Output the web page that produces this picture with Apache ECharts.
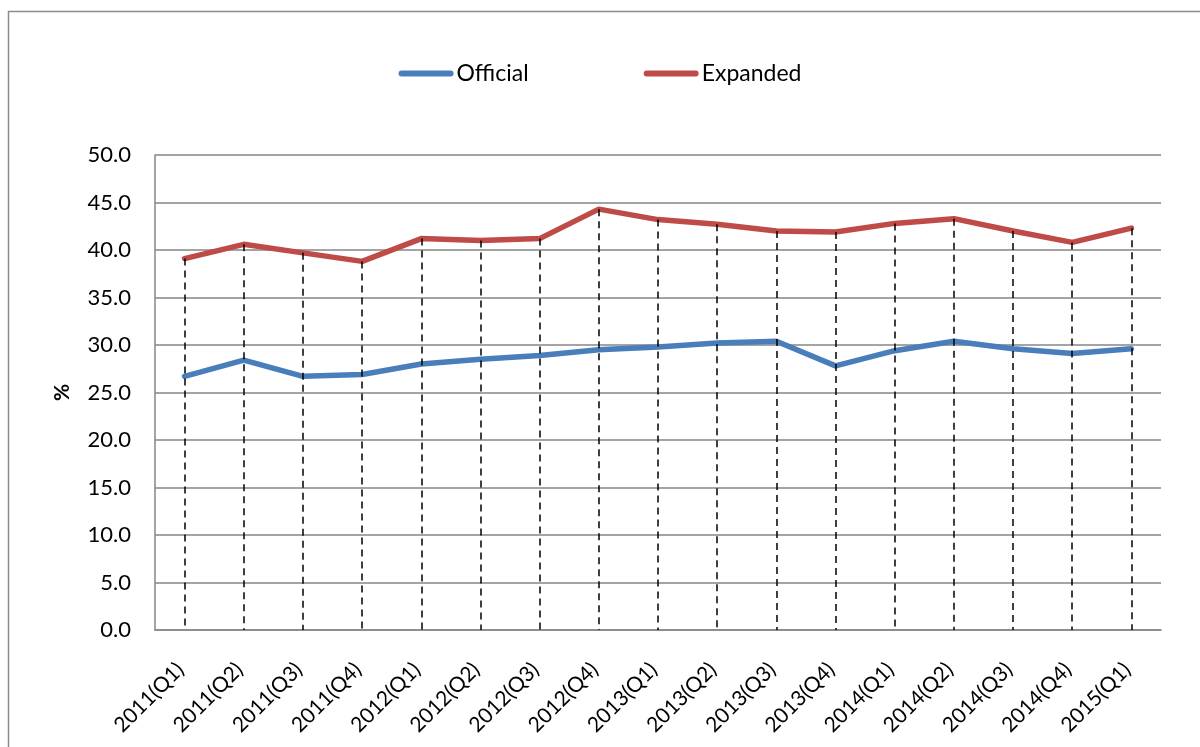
<!DOCTYPE html>
<html>
<head>
<meta charset="utf-8">
<script src="https://cdn.jsdelivr.net/npm/echarts@6/dist/echarts.min.js"></script>
<style>
  html, body { margin: 0; padding: 0; background: #fff; }
  #main { width: 1200px; height: 747px; }
</style>
</head>
<body>
<div id="main"></div>
<script>
// quarters on the x axis
var quarters = ['2011(Q1)', '2011(Q2)', '2011(Q3)', '2011(Q4)',
  '2012(Q1)', '2012(Q2)', '2012(Q3)', '2012(Q4)',
  '2013(Q1)', '2013(Q2)', '2013(Q3)', '2013(Q4)',
  '2014(Q1)', '2014(Q2)', '2014(Q3)', '2014(Q4)', '2015(Q1)'];
// official rate, %
var official = [26.7, 28.4, 26.7, 26.9, 28.0, 28.5, 28.9, 29.5, 29.8, 30.2, 30.4, 27.8, 29.4, 30.4, 29.6, 29.1, 29.6];
// expanded rate, %
var expanded = [39.1, 40.6, 39.7, 38.8, 41.2, 41.0, 41.2, 44.3, 43.2, 42.7, 42.0, 41.9, 42.8, 43.3, 42.0, 40.8, 42.3];

var font = 'Lato, "Open Sans", sans-serif';
var blue = '#4A7EBB', red = '#BE4B48';
var pill = 'path://M3,0 L52,0 A3,3 0 0 1 52,6 L3,6 A3,3 0 0 1 3,0 Z';

// drop lines from each expanded point down to the axis
var dropLines = expanded.map(function (v, i) {
  return [{ coord: [i, v] }, { coord: [i, 0] }];
});

var chart = echarts.init(document.getElementById('main'));
chart.setOption({
  animation: false,
  backgroundColor: '#fff',
  graphic: [{
    type: 'rect',
    shape: { x: 8.5, y: 11.5, width: 1250, height: 800 },
    style: { fill: 'none', stroke: '#8c8c8c', lineWidth: 1.5 },
    silent: true
  }],
  legend: {
    top: 57,
    left: 'center',
    itemWidth: 55,
    itemHeight: 6,
    itemGap: 115,
    textStyle: { fontFamily: font, fontSize: 23, color: '#000', padding: [0, 0, 0, -2] },
    data: [
      { name: 'Official', icon: pill, itemStyle: { color: blue } },
      { name: 'Expanded', icon: pill, itemStyle: { color: red } }
    ]
  },
  grid: { left: 155, right: 39, top: 155, bottom: 117 },
  xAxis: {
    type: 'category',
    data: quarters,
    boundaryGap: true,
    axisLine: { lineStyle: { color: '#868686', width: 1.5 } },
    axisTick: { show: false },
    axisLabel: {
      rotate: 45, margin: 32, padding: [0, 6, 0, 0],
      fontFamily: font, fontSize: 21, color: '#000', interval: 0
    }
  },
  yAxis: {
    type: 'value',
    min: 0,
    max: 50,
    interval: 5,
    name: '%',
    nameLocation: 'middle',
    nameGap: 82,
    nameTextStyle: { fontFamily: font, fontSize: 21, fontWeight: 'bold', color: '#000' },
    axisLine: { show: true, lineStyle: { color: '#868686', width: 1.5 } },
    axisTick: { show: false },
    splitLine: { lineStyle: { color: '#868686', width: 1.5 } },
    axisLabel: {
      margin: 24, fontFamily: font, fontSize: 22, color: '#000',
      formatter: function (v) { return v.toFixed(1); }
    }
  },
  series: [
    {
      name: 'Official',
      type: 'line',
      data: official,
      symbol: 'none',
      color: blue,
      lineStyle: { width: 5.5, color: blue, cap: 'round' },
      z: 2
    },
    {
      name: 'Expanded',
      type: 'line',
      data: expanded,
      symbol: 'none',
      color: red,
      lineStyle: { width: 5.5, color: red, cap: 'round' },
      z: 2,
      markLine: {
        silent: true,
        symbol: 'none',
        label: { show: false },
        lineStyle: { color: '#000', type: [7, 5], width: 1.5 },
        data: dropLines,
        z: 5
      }
    }
  ]
});
</script>
</body>
</html>
